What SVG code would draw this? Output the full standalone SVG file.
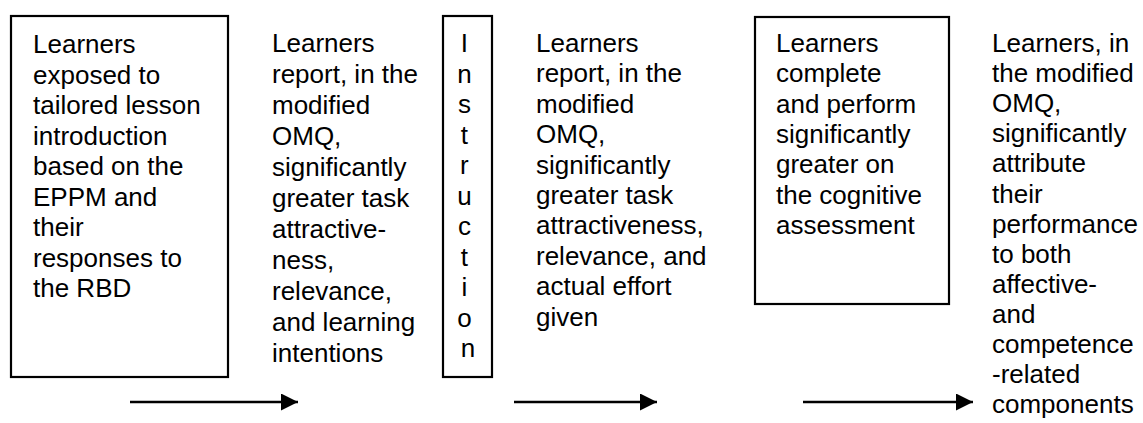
<svg xmlns="http://www.w3.org/2000/svg" width="1143" height="423" viewBox="0 0 1143 423">
  <style>
    .box { fill: #ffffff; stroke: #000000; stroke-width: 2.2; }
    .txt { font-family: "Liberation Sans", Arial, sans-serif; font-size: 26px; fill: #000000; }
    .mid { text-anchor: middle; }
    .conn { stroke: #000000; stroke-width: 2.5; fill: none; }
  </style>
  <defs>
    <marker id="arrowhead" markerUnits="userSpaceOnUse" markerWidth="20" markerHeight="20" refX="17" refY="8.5" orient="auto">
      <path d="M0,0 L17,8.5 L0,17 Z" fill="#000000"/>
    </marker>
  </defs>
  <rect width="1143" height="423" fill="#ffffff"/>

  <!-- Step 1: lesson introduction -->
  <g id="node-introduction">
    <rect class="box" x="11" y="16" width="217" height="361"/>
    <text class="txt" x="33" y="53">
      <tspan x="33" y="53">Learners</tspan>
      <tspan x="33" y="83.5">exposed to</tspan>
      <tspan x="33" y="114">tailored lesson</tspan>
      <tspan x="33" y="144.5">introduction</tspan>
      <tspan x="33" y="175">based on the</tspan>
      <tspan x="33" y="205.5">EPPM and</tspan>
      <tspan x="33" y="236">their</tspan>
      <tspan x="33" y="266.5">responses to</tspan>
      <tspan x="33" y="297">the RBD</tspan>
    </text>
  </g>

  <!-- Step 2: first OMQ report -->
  <g id="node-report-1">
    <text class="txt" x="272" y="52">
      <tspan x="272" y="52">Learners</tspan>
      <tspan x="272" y="83">report, in the</tspan>
      <tspan x="272" y="114">modified</tspan>
      <tspan x="272" y="145">OMQ,</tspan>
      <tspan x="272" y="176">significantly</tspan>
      <tspan x="272" y="207">greater task</tspan>
      <tspan x="272" y="238">attractive-</tspan>
      <tspan x="272" y="269">ness,</tspan>
      <tspan x="272" y="300">relevance,</tspan>
      <tspan x="272" y="331">and learning</tspan>
      <tspan x="272" y="362">intentions</tspan>
    </text>
  </g>

  <!-- Step 3: instruction (vertical lettering) -->
  <g id="node-instruction">
    <rect class="box" x="443" y="16" width="49" height="361"/>
    <text class="txt mid" x="468" y="52">
      <tspan x="468" y="52">I</tspan>
      <tspan x="468" y="82.5">n</tspan>
      <tspan x="468" y="113">s</tspan>
      <tspan x="468" y="143.5">t</tspan>
      <tspan x="468" y="174">r</tspan>
      <tspan x="468" y="204.5">u</tspan>
      <tspan x="468" y="235">c</tspan>
      <tspan x="468" y="265.5">t</tspan>
      <tspan x="468" y="296">i</tspan>
      <tspan x="468" y="326.5">o</tspan>
      <tspan x="468" y="357">n</tspan>
    </text>
  </g>

  <!-- Step 4: second OMQ report -->
  <g id="node-report-2">
    <text class="txt" x="536" y="52">
      <tspan x="536" y="52">Learners</tspan>
      <tspan x="536" y="82.4">report, in the</tspan>
      <tspan x="536" y="112.8">modified</tspan>
      <tspan x="536" y="143.2">OMQ,</tspan>
      <tspan x="536" y="173.6">significantly</tspan>
      <tspan x="536" y="204">greater task</tspan>
      <tspan x="536" y="234.4">attractiveness,</tspan>
      <tspan x="536" y="264.8">relevance, and</tspan>
      <tspan x="536" y="295.2">actual effort</tspan>
      <tspan x="536" y="325.6">given</tspan>
    </text>
  </g>

  <!-- Step 5: cognitive assessment -->
  <g id="node-assessment">
    <rect class="box" x="755" y="17" width="194" height="287"/>
    <text class="txt" x="776" y="52">
      <tspan x="776" y="52">Learners</tspan>
      <tspan x="776" y="82.3">complete</tspan>
      <tspan x="776" y="112.6">and perform</tspan>
      <tspan x="776" y="142.9">significantly</tspan>
      <tspan x="776" y="173.2">greater on</tspan>
      <tspan x="776" y="203.5">the cognitive</tspan>
      <tspan x="776" y="233.8">assessment</tspan>
    </text>
  </g>

  <!-- Step 6: attribution -->
  <g id="node-attribution">
    <text class="txt" x="992" y="52">
      <tspan x="992" y="52">Learners, in</tspan>
      <tspan x="992" y="82.1">the modified</tspan>
      <tspan x="992" y="112.2">OMQ,</tspan>
      <tspan x="992" y="142.3">significantly</tspan>
      <tspan x="992" y="172.4">attribute</tspan>
      <tspan x="992" y="202.5">their</tspan>
      <tspan x="992" y="232.6">performance</tspan>
      <tspan x="992" y="262.7">to both</tspan>
      <tspan x="992" y="292.8">affective-</tspan>
      <tspan x="992" y="322.9">and</tspan>
      <tspan x="992" y="353">competence</tspan>
      <tspan x="992" y="383.1">-related</tspan>
      <tspan x="992" y="413.2">components</tspan>
    </text>
  </g>

  <!-- Connectors -->
  <g id="connectors">
    <line class="conn" x1="130" y1="402" x2="298" y2="402" marker-end="url(#arrowhead)"/>
    <line class="conn" x1="514" y1="402" x2="657" y2="402" marker-end="url(#arrowhead)"/>
    <line class="conn" x1="803" y1="402" x2="973" y2="402" marker-end="url(#arrowhead)"/>
  </g>
</svg>
